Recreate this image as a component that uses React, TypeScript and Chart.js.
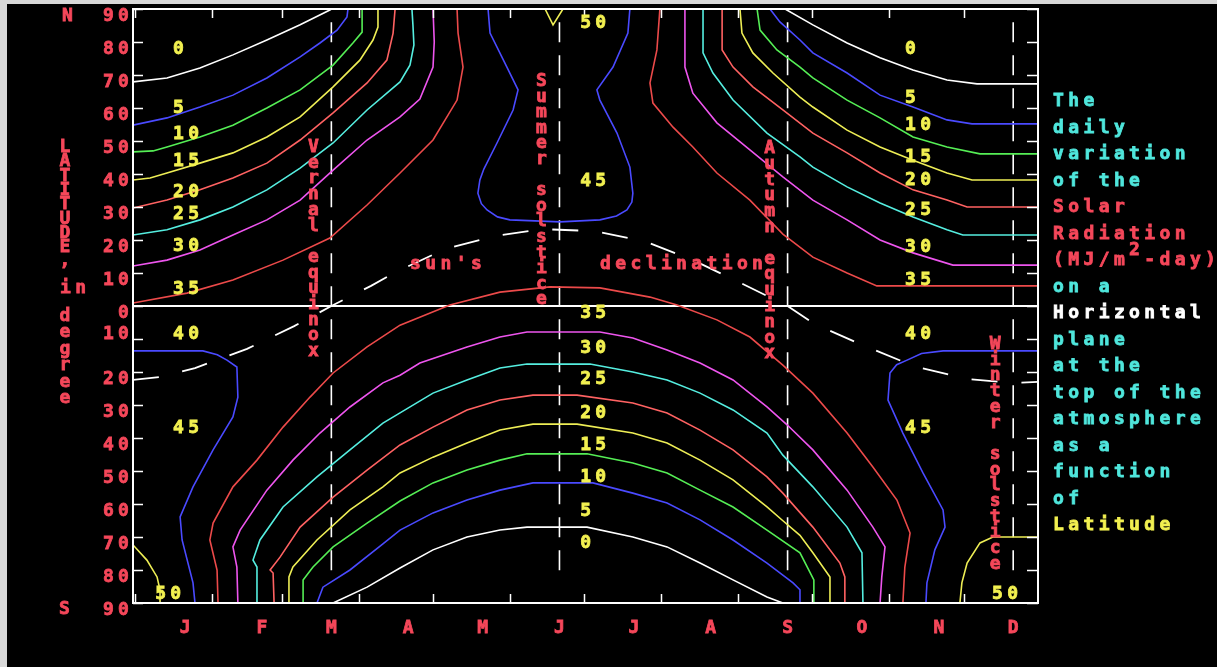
import { useEffect, useRef } from 'react';
import { Chart, registerables } from 'chart.js';

Chart.register(...registerables);

type Pt = [number, number];

const W = 1217;
const H = 667;

// ---------- axes / annotations data ----------
const monthLabels = ['J', 'F', 'M', 'A', 'M', 'J', 'J', 'A', 'S', 'O', 'N', 'D'];
const monthLabelDays = [21, 52, 80, 111, 141, 172, 202, 233, 264, 294, 325, 355];
const monthStartDays = [1, 32, 60, 91, 121, 152, 182, 213, 244, 274, 305, 335];
const latTicks = [90, 80, 70, 60, 50, 40, 30, 20, 10, 0, -10, -20, -30, -40, -50, -60, -70, -80, -90];
const latTickLabels = ['90', '80', '70', '60', '50', '40', '30', '20', '10', '0', '10', '20', '30', '40', '50', '60', '70', '80', '90'];
const solsticeEquinoxDays = [80, 172, 264, 355];

const declinationDays = [0, 11, 25, 46, 65, 80, 96, 106, 126, 146, 165, 186, 206, 225, 245, 264, 275, 295, 315, 336, 355, 365];
const declinationLats = [-22.4, -21.5, -18.8, -13, -6.1, 0, 6.1, 10.3, 17.3, 21.2, 23.3, 22.7, 19.7, 14.2, 7, 0, -5.5, -12.1, -18.2, -22.1, -23.3, -23];

// ---------- contour lines: [day of year, latitude] ----------
const c0NorthEarly: Pt[] = [[0, 67.9], [13.7, 69.1], [27, 72.1], [40.3, 76.1], [54, 80.6], [67.4, 85.2], [79.4, 89.7], [80, 90]];
const c0NorthLate: Pt[] = [[263, 90], [274.2, 85.2], [288, 79.7], [301.3, 75.2], [314.6, 71.5], [328.3, 68.5], [340.4, 67.3], [365, 67.3]];
const c5NorthEarly: Pt[] = [[0, 54.8], [13.7, 57], [27, 60.3], [40.3, 63.9], [54, 69.1], [67.4, 75.5], [75.4, 79.7], [82.3, 83.6], [86.3, 87.6], [86.7, 90]];
const c5NorthLate: Pt[] = [[256.9, 90], [260.9, 86.1], [269, 80.6], [274.2, 76.7], [288, 70.6], [301.3, 63.9], [314.6, 60.3], [328.3, 56.4], [338.4, 55.2], [365, 55.2]];
const c10NorthEarly: Pt[] = [[0, 46.7], [8.1, 47], [13.7, 48.2], [27, 51.2], [40.3, 54.8], [54, 60], [67.4, 65.5], [80.7, 73], [88.7, 79.7], [92.4, 83], [92.4, 90]];
const c10NorthLate: Pt[] = [[251.7, 90], [252.9, 83.6], [259.7, 77.6], [269, 72.4], [274.2, 69.1], [288, 62.4], [301.3, 57], [314.6, 51.2], [328.3, 48.2], [341.6, 46.1], [365, 46.1]];
const c15NorthEarly: Pt[] = [[0, 38.2], [6.9, 38.8], [13.7, 40.3], [27, 43.3], [40.3, 46.4], [54, 51.2], [67.4, 57.3], [80.7, 66.4], [91.5, 74.5], [96.8, 80.6], [98.8, 84.5], [98.8, 90]];
const c15NorthLate: Pt[] = [[244.8, 90], [245.6, 82.7], [250, 76.7], [258.1, 70.6], [269, 63.3], [274.2, 60.3], [288, 53.3], [301.3, 48.2], [314.6, 44.2], [328.3, 40.3], [338.4, 38.2], [365, 38.2]];
const c20NorthEarly: Pt[] = [[0, 29.7], [13.7, 32.1], [27, 35.2], [40.3, 38.8], [54, 43.3], [67.4, 50.3], [80.7, 58.5], [94.4, 67.6], [102.4, 74.5], [104.9, 82.7], [105.7, 90]];
const c20NorthLate: Pt[] = [[237.6, 90], [237.6, 77.6], [242, 72.4], [250, 66.4], [262.1, 59.4], [274.2, 52.4], [288, 46.4], [301.3, 40.3], [314.6, 35.2], [328.3, 32.1], [336.4, 30], [365, 30]];
const c25NorthEarly: Pt[] = [[0, 21.5], [13.7, 23.1], [27, 26.1], [40.3, 30], [54, 35.2], [67.4, 41.8], [80.7, 49.4], [94.4, 59.4], [107.7, 67.9], [111.7, 73], [113.3, 79.1], [112.9, 85.2], [112.5, 90]];
const c25NorthLate: Pt[] = [[229.9, 90], [229.9, 76.7], [233.9, 70.6], [242, 62.4], [255.7, 52.4], [269, 45.2], [274.2, 42.1], [288, 36.1], [301.3, 31.2], [314.6, 27], [328.3, 23.1], [334.7, 21.5], [365, 21.5]];
const c30NorthEarly: Pt[] = [[0, 12.1], [13.7, 13.9], [27, 17], [40.3, 21.5], [54, 26.1], [67.4, 32.1], [80.7, 41.2], [94.4, 50.3], [107.7, 57.3], [115.7, 62.7], [121, 72.4], [121.5, 80], [121, 90]];
const c30NorthLate: Pt[] = [[222.6, 90], [222.6, 72.4], [225.8, 64.5], [235.5, 55.5], [248.8, 47.3], [262.1, 39.1], [274.2, 32.1], [288, 26.1], [301.3, 20], [314.6, 16.1], [330.7, 12.4], [365, 12.4]];
const c35NorthEarly: Pt[] = [[0, 0.9], [21.8, 3.9], [40.3, 7.9], [60.5, 13.9], [79.4, 20.6], [94.4, 30.6], [107.7, 40.3], [121, 50.3], [130.7, 62.4], [133.1, 72.4], [131.1, 82.7], [130.7, 90]];
const c35NorthLate: Pt[] = [[212.5, 90], [211.3, 77.6], [208.5, 67.6], [209.7, 61.5], [217.8, 54.2], [225.8, 48.2], [235.5, 40.3], [248.8, 32.1], [262.1, 21.8], [274.2, 14.8], [288, 10], [300, 6.1], [365, 6.1]];
const c45North: Pt[] = [[143.2, 90], [144, 82.7], [150.8, 72.4], [155.3, 65.5], [153.3, 59.4], [146.8, 49.4], [141.5, 41.5], [139.9, 38.2], [139.1, 34.2], [140.5, 31], [142.8, 29.1], [147, 27], [152, 26.1], [172.2, 25.5], [188.3, 26.1], [195, 27.3], [199.2, 29.1], [201.2, 31.5], [201.6, 34.2], [200.4, 42.1], [195.2, 52.4], [188.3, 62.4], [187.1, 65.5], [193.6, 72.4], [199.6, 82.7], [200.4, 90]];
const c50North: Pt[] = [[166.2, 90], [169.4, 85.2], [173.4, 90]];

const c45SouthEarly: Pt[] = [[0, -13.6], [28.2, -13.6], [34, -14.8], [37.9, -16.4], [41.9, -18.5], [42.3, -27.6], [40.3, -33.6], [32.3, -43.6], [24.2, -54.8], [19, -63.9], [19.8, -70.9], [24.2, -83.9], [25, -90]];
const c45SouthLate: Pt[] = [[319.8, -90], [320.2, -83.9], [323.4, -73.9], [327.5, -67], [326.7, -61.8], [318.6, -50.6], [310.5, -38.5], [304.5, -28.5], [305.3, -20.3], [308, -17.8], [312.2, -16.4], [318, -14.4], [326.7, -13.6], [365, -13.6]];
const c50SouthEarly: Pt[] = [[0, -72.4], [5.6, -77], [9.7, -82.1], [10.9, -86.1], [10.9, -90]];
const c50SouthLate: Pt[] = [[333.5, -90], [334.3, -83.9], [336.4, -77.9], [341.6, -71.8], [346.8, -70], [365, -70]];
const c35Band: Pt[] = [[34.3, -90], [33.9, -80], [31, -70.9], [32.3, -65.8], [40.3, -54.8], [50, -46.7], [60.5, -36.7], [71.4, -27.6], [80.7, -20.3], [94.4, -12.4], [107.7, -5.8], [127.8, 0.3], [148, 4.2], [168.2, 5.8], [188.3, 5.5], [208.5, 2.7], [219.4, 0.3], [235.5, -4.2], [248.8, -9.4], [262.1, -17.9], [274.2, -26.4], [288, -38.5], [298.4, -48.8], [308.1, -58.8], [313.4, -68.8], [311.3, -79.1], [310.5, -90]];
const c30South: Pt[] = [[42.3, -90], [41.9, -79.1], [40.3, -73], [43.2, -67.9], [54, -55.8], [64.5, -46.7], [75.4, -38.5], [87.5, -30.6], [100.8, -23.3], [107.7, -21], [115.7, -17.3], [134.7, -12.4], [148, -9.4], [158.9, -7.9], [188.3, -7.9], [201.6, -9.7], [215.4, -13.3], [228.7, -17.3], [242, -22.4], [255.7, -30.6], [263.8, -36], [274.2, -43.6], [288, -55.8], [298.4, -67], [303.3, -73], [302, -82.1], [301.3, -90]];
const c25South: Pt[] = [[50, -90], [50, -79.1], [48.4, -77], [51.2, -70.9], [60.5, -60.9], [74.2, -51.8], [87.5, -43.6], [100.8, -35.5], [107.7, -32.4], [121, -26.4], [134.7, -22.4], [148, -18.8], [158.9, -17.6], [184.3, -17.6], [201.6, -20], [215.4, -22.4], [228.7, -26.4], [242, -31.5], [255.7, -38.5], [262.1, -45.2], [274.2, -54.8], [288, -67], [294, -74.8], [294.4, -90]];
const c20South: Pt[] = [[56.9, -90], [56.5, -80.9], [55.3, -80], [59.3, -76.1], [67.4, -67], [80.7, -57.9], [94.4, -49.7], [107.7, -42.1], [121, -36.7], [134.7, -31.5], [148, -28.5], [161.3, -27], [179.1, -27], [201.6, -29.4], [215.4, -32.4], [228.7, -37.6], [242, -43.6], [255.7, -51.8], [262.1, -56.7], [274.2, -67], [285.1, -77.9], [287.1, -82.1], [287.1, -90]];
const c15South: Pt[] = [[62.9, -90], [62.9, -82.1], [64.5, -79.1], [74.2, -70.9], [87.5, -61.8], [100.8, -54.8], [107.7, -50.6], [121, -45.8], [134.7, -41.5], [148, -37.6], [161.3, -35.8], [179.1, -35.8], [201.6, -38.5], [215.4, -41.5], [228.7, -46.7], [242, -52.7], [255.7, -60.9], [262, -65], [269, -69.5], [274.2, -74.8], [281.1, -82.1], [281.1, -90]];
const c10South: Pt[] = [[68.6, -90], [68.6, -83], [72.6, -79.1], [80.7, -73], [94.4, -65.8], [107.7, -59.1], [121, -53.6], [134.7, -49.7], [148, -46.7], [158.9, -44.8], [183.1, -44.8], [201.6, -47.6], [215.4, -50.6], [228.7, -55.8], [242, -60.9], [255.7, -67.9], [269, -74.8], [274.6, -83], [274.6, -90]];
const c5South: Pt[] = [[74.2, -90], [76.6, -85.2], [87.5, -80], [100.8, -72.1], [107.7, -67.9], [121, -62.7], [134.7, -58.8], [148, -55.8], [161.3, -53.6], [185.5, -53.6], [201.6, -56.7], [215.4, -59.7], [228.7, -64.8], [242, -70.9], [255.7, -77.9], [266.2, -83.9], [269, -86], [269, -90]];
const c0South: Pt[] = [[80.7, -90], [94.4, -85.2], [107.7, -79.4], [121, -73.9], [134.7, -70], [148, -67.9], [158.9, -67], [183.1, -67], [201.6, -70], [215.4, -73], [228.7, -77.9], [242, -83], [255.7, -88.2], [262.1, -90]];

// ---------- contour labels ----------
const westLabelTexts = ['0', '5', '10', '15', '20', '25', '30', '35', '40', '45'];
const westLabelLats = [78.2, 60.3, 52.4, 44.2, 34.8, 28.2, 18.5, 5.5, -8.2, -36.7];
const midLabelTexts = ['50', '45', '35', '30', '25', '20', '15', '10', '5', '0'];
const midLabelLats = [86.1, 38.2, -1.8, -12.4, -21.8, -32.1, -41.8, -51.5, -61.8, -71.5];
const eastLabelTexts = ['0', '5', '10', '15', '20', '25', '30', '35', '40', '45'];
const eastLabelLats = [78.2, 63.3, 55.2, 45.5, 38.5, 29.4, 18.2, 8.2, -8.2, -36.7];
const columnDays = { west: 16.1, mid: 180.3, east: 311.3 };
const cornerLabelText = '50';
const cornerLabelDays = [8.9, 346.4];
const cornerLabelLat = -87;

const sideTextLines = ['The', 'daily', 'variation', 'of the', 'Solar', 'Radiation', '(MJ/m2-day)', 'on a', 'Horizontal', 'plane', 'at the', 'top of the', 'atmosphere', 'as a', 'function', 'of', 'Latitude'];

// ---------- styles ----------
const WHITE = '#ffffff';
const BLUE = '#4a4aff';
const GREEN = '#55ee55';
const YELLOW = '#eeee55';
const SALMON = '#ff6262';
const CYAN = '#55eee0';
const MAGENTA = '#ee55ee';
const RED = '#ec4a4a';
const TXT_RED = '#f5475a';
const TXT_YEL = '#f2f050';
const TXT_CYAN = '#4fe6dc';

const sideTextColors = [TXT_CYAN, TXT_CYAN, TXT_CYAN, TXT_CYAN, TXT_RED, TXT_RED, TXT_RED, TXT_CYAN, WHITE, TXT_CYAN, TXT_CYAN, TXT_CYAN, TXT_CYAN, TXT_CYAN, TXT_CYAN, TXT_CYAN, TXT_YEL];

const contourLines: { pts: Pt[]; color: string }[] = [
  { pts: c0NorthEarly, color: WHITE }, { pts: c0NorthLate, color: WHITE },
  { pts: c5NorthEarly, color: BLUE }, { pts: c5NorthLate, color: BLUE },
  { pts: c10NorthEarly, color: GREEN }, { pts: c10NorthLate, color: GREEN },
  { pts: c15NorthEarly, color: YELLOW }, { pts: c15NorthLate, color: YELLOW },
  { pts: c20NorthEarly, color: SALMON }, { pts: c20NorthLate, color: SALMON },
  { pts: c25NorthEarly, color: CYAN }, { pts: c25NorthLate, color: CYAN },
  { pts: c30NorthEarly, color: MAGENTA }, { pts: c30NorthLate, color: MAGENTA },
  { pts: c35NorthEarly, color: RED }, { pts: c35NorthLate, color: RED },
  { pts: c45North, color: BLUE }, { pts: c50North, color: YELLOW },
  { pts: c45SouthEarly, color: BLUE }, { pts: c45SouthLate, color: BLUE },
  { pts: c50SouthEarly, color: YELLOW }, { pts: c50SouthLate, color: YELLOW },
  { pts: c35Band, color: RED }, { pts: c30South, color: MAGENTA },
  { pts: c25South, color: CYAN }, { pts: c20South, color: SALMON },
  { pts: c15South, color: YELLOW }, { pts: c10South, color: GREEN },
  { pts: c5South, color: BLUE }, { pts: c0South, color: WHITE },
];

const FONT = 'bold 18px "DejaVu Sans Mono", "Liberation Mono", monospace';
const PITCH = 15.2;
const GLYPH = 11;

function glyph(ctx: CanvasRenderingContext2D, ch: string, x: number, y: number) {
  ctx.fillText(ch, x, y);
  ctx.strokeText(ch, x, y);
}
function mono(ctx: CanvasRenderingContext2D, text: string, left: number, cy: number, color: string, supIndex = -1) {
  ctx.fillStyle = color;
  ctx.strokeStyle = color;
  ctx.lineWidth = 0.8;
  ctx.textAlign = 'center';
  ctx.textBaseline = 'alphabetic';
  for (let i = 0; i < text.length; i++) {
    const dy = i === supIndex ? -10 : 0;
    if (text[i] !== ' ') glyph(ctx, text[i], left + i * PITCH + GLYPH / 2, cy + 6 + dy);
  }
}
function monoWidth(text: string) {
  return (text.length - 1) * PITCH + GLYPH;
}
function vertical(ctx: CanvasRenderingContext2D, text: string, cx: number, y0: number, step: number, color: string) {
  ctx.fillStyle = color;
  ctx.strokeStyle = color;
  ctx.lineWidth = 0.8;
  ctx.textAlign = 'center';
  ctx.textBaseline = 'alphabetic';
  for (let i = 0; i < text.length; i++) {
    if (text[i] !== ' ') glyph(ctx, text[i], cx, y0 + i * step + 6);
  }
}

const bgPlugin = {
  id: 'bgPlugin',
  beforeDraw(chart: any) {
    const ctx = chart.ctx as CanvasRenderingContext2D;
    ctx.save();
    ctx.fillStyle = '#000';
    ctx.fillRect(0, 0, chart.width, chart.height);
    ctx.fillStyle = '#d8d8d8';
    ctx.fillRect(0, 0, 7, chart.height);
    ctx.fillRect(0, 0, chart.width, 4);
    ctx.restore();
  },
};

const framePlugin = {
  id: 'framePlugin',
  afterDraw(chart: any) {
    const ctx = chart.ctx as CanvasRenderingContext2D;
    const a = chart.chartArea;
    const xs = chart.scales.x;
    const ys = chart.scales.y;
    ctx.save();
    ctx.strokeStyle = '#fff';
    ctx.lineWidth = 2;
    ctx.strokeRect(a.left, a.top, a.right - a.left, a.bottom - a.top);
    ctx.lineWidth = 1.5;
    ctx.beginPath();
    for (const lat of latTicks) {
      const py = Math.round(ys.getPixelForValue(lat)) + 0.5;
      ctx.moveTo(a.left, py); ctx.lineTo(a.left + 10, py);
      ctx.moveTo(a.right, py); ctx.lineTo(a.right - 11, py);
    }
    for (const d of monthStartDays) {
      const px = Math.round(xs.getPixelForValue(d)) + 0.5;
      ctx.moveTo(px, a.top); ctx.lineTo(px, a.top + 9);
      ctx.moveTo(px, a.bottom); ctx.lineTo(px, a.bottom - 9);
    }
    ctx.stroke();

    ctx.font = FONT;
    latTicks.forEach((lat, i) => {
      const t = latTickLabels[i];
      const shift = lat === -10 ? -6 : 6;
      mono(ctx, t, a.left - 4 - monoWidth(t), ys.getPixelForValue(lat) + shift, TXT_RED);
    });
    mono(ctx, 'N', 62, ys.getPixelForValue(90) + 6, TXT_RED);
    mono(ctx, 'S', 59, ys.getPixelForValue(-90) + 5, TXT_RED);
    monthLabels.forEach((m, i) => {
      const px = xs.getPixelForValue(monthLabelDays[i]);
      mono(ctx, m, px - GLYPH / 2, a.bottom + 24, TXT_RED);
    });
    vertical(ctx, 'LATITUDE,', 65, 146, 14.3, TXT_RED);
    mono(ctx, 'in', 60, 287, TXT_RED);
    vertical(ctx, 'degree', 65, 315, 16.4, TXT_RED);

    westLabelTexts.forEach((t, i) => mono(ctx, t, xs.getPixelForValue(columnDays.west), ys.getPixelForValue(westLabelLats[i]), TXT_YEL));
    midLabelTexts.forEach((t, i) => mono(ctx, t, xs.getPixelForValue(columnDays.mid), ys.getPixelForValue(midLabelLats[i]), TXT_YEL));
    eastLabelTexts.forEach((t, i) => mono(ctx, t, xs.getPixelForValue(columnDays.east), ys.getPixelForValue(eastLabelLats[i]), TXT_YEL));
    cornerLabelDays.forEach((d) => mono(ctx, cornerLabelText, xs.getPixelForValue(d), ys.getPixelForValue(cornerLabelLat), TXT_YEL));

    const capX = (d: number) => xs.getPixelForValue(d) - 18;
    vertical(ctx, 'Vernal equinox', capX(solsticeEquinoxDays[0]), 146, 15.7, TXT_RED);
    vertical(ctx, 'Summer solstice', capX(solsticeEquinoxDays[1]), 80, 15.6, TXT_RED);
    vertical(ctx, 'Autumn equinox', capX(solsticeEquinoxDays[2]), 147, 15.8, TXT_RED);
    vertical(ctx, 'Winter solstice', capX(solsticeEquinoxDays[3]), 343, 15.7, TXT_RED);

    mono(ctx, "sun's", 410, 263, TXT_RED);
    mono(ctx, 'declination', 600, 263, TXT_RED);

    sideTextLines.forEach((t, i) => {
      mono(ctx, t, a.right + 15, 100 + i * 26.5, sideTextColors[i], t.startsWith('(MJ') ? 5 : -1);
    });
    ctx.restore();
  },
};

export default function App() {
  const ref = useRef<HTMLCanvasElement>(null);
  useEffect(() => {
    const datasets: any[] = [
      ...contourLines.map((c) => ({
        data: c.pts.map(([d, l]) => ({ x: d, y: l })),
        borderColor: c.color,
        borderWidth: 1.6,
        pointRadius: 0,
        showLine: true,
        fill: false,
        tension: 0,
      })),
      {
        data: [{ x: 0, y: 0 }, { x: 365, y: 0 }],
        borderColor: WHITE, borderWidth: 2, pointRadius: 0, showLine: true,
      },
      ...solsticeEquinoxDays.map((d) => ({
        data: [{ x: d, y: 86 }, { x: d, y: -82 }],
        borderColor: WHITE, borderWidth: 1.6, pointRadius: 0, showLine: true, borderDash: [20, 13],
      })),
      {
        data: declinationDays.map((d, i) => ({ x: d, y: declinationLats[i] })),
        borderColor: WHITE, borderWidth: 1.8, pointRadius: 0, showLine: true, borderDash: [26, 24],
      },
    ];
    const chart = new Chart(ref.current as HTMLCanvasElement, {
      type: 'scatter',
      data: { datasets },
      options: {
        animation: false,
        responsive: false,
        devicePixelRatio: 1,
        events: [],
        layout: { padding: { left: 133, top: 9, right: W - 1038, bottom: H - 603 } },
        plugins: { legend: { display: false }, tooltip: { enabled: false }, title: { display: false } },
        scales: {
          x: { type: 'linear', min: 0, max: 365, display: false },
          y: { type: 'linear', min: -90, max: 90, display: false },
        },
      },
      plugins: [bgPlugin, framePlugin],
    } as any);
    return () => chart.destroy();
  }, []);
  return (
    <div style={{ position: 'absolute', left: 0, top: 0, width: W, height: H, background: '#000' }}>
      <canvas ref={ref} width={W} height={H} style={{ display: 'block', width: W, height: H }} />
    </div>
  );
}
